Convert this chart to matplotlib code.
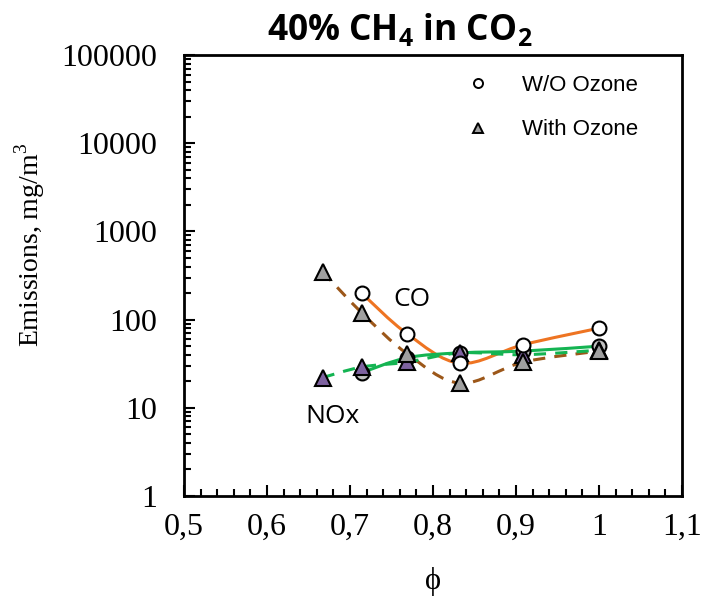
import matplotlib
matplotlib.use('Agg')
import matplotlib.pyplot as plt
from matplotlib.path import Path
from matplotlib.patches import PathPatch
from matplotlib.lines import Line2D
from matplotlib.ticker import MultipleLocator, FuncFormatter, LogLocator
import numpy as np

# equivalence ratio
phi = [0.667, 0.714, 0.769, 0.833, 0.909, 1.0]
phi_wo = [0.714, 0.769, 0.833, 0.909, 1.0]

# emissions, mg/m3
co_wo = [200, 69, 32, 52, 80]
co_w = [350, 120, 41, 19, 33, 44]
nox_wo = [25, 37, 42, 44, 50]
nox_w = [22, 29, 33, 42, 40, 45]

serif = 'Liberation Serif'
plt.rcParams['mathtext.fontset'] = 'custom'
plt.rcParams['mathtext.rm'] = serif
plt.rcParams['mathtext.bf'] = 'Open Sans:bold'


def smooth_path(x, y):
    # excel-like smoothed line: cubic bezier through the points (in x, log y)
    x = np.asarray(x, float)
    ly = np.log10(np.asarray(y, float))
    n = len(x)
    verts = [(x[0], ly[0])]
    codes = [Path.MOVETO]
    for i in range(n - 1):
        p0 = np.array([x[max(i - 1, 0)], ly[max(i - 1, 0)]])
        p1 = np.array([x[i], ly[i]])
        p2 = np.array([x[i + 1], ly[i + 1]])
        p3 = np.array([x[min(i + 2, n - 1)], ly[min(i + 2, n - 1)]])
        c1 = p1 + (p2 - p0) / 6
        c2 = p2 - (p3 - p1) / 6
        verts += [tuple(c1), tuple(c2), tuple(p2)]
        codes += [Path.CURVE4] * 3
    verts = [(vx, 10 ** vy) for vx, vy in verts]
    return Path(verts, codes)


fig = plt.figure(figsize=(7.17, 5.99), dpi=100)
ax = fig.add_axes([0.2566, 0.172, 0.6945, 0.736])

ax.set_yscale('log')
ax.set_xlim(0.5, 1.1)
ax.set_ylim(1, 100000)

# lines
ax.add_patch(PathPatch(smooth_path(phi_wo, co_wo), fill=False, color='#EE7422', lw=2.2, zorder=2))
ax.add_patch(PathPatch(smooth_path(phi, co_w), fill=False, color='#9C5719', lw=2.2,
                       ls=(0, (4, 3)), zorder=2))
ax.add_patch(PathPatch(smooth_path(phi_wo, nox_wo), fill=False, color='#14B452', lw=2.2, zorder=2))
ax.add_patch(PathPatch(smooth_path(phi, nox_w), fill=False, color='#14B452', lw=2.2,
                       ls=(0, (4, 3)), zorder=2))

# markers
ax.plot(phi_wo, nox_wo, 'o', ls='none', ms=10, mfc='#C0C0C0', mec='black', mew=1.5, zorder=3)
ax.plot(phi, nox_w, '^', ls='none', ms=11, mfc='#7E62A0', mec='black', mew=1.5, zorder=4)
ax.plot(phi, co_w, '^', ls='none', ms=11, mfc='#A0A0A0', mec='black', mew=1.5, zorder=5)
ax.plot(phi_wo, co_wo, 'o', ls='none', ms=10, mfc='white', mec='black', mew=1.5, zorder=6)

ax.text(0.752, 170, 'CO', fontsize=19, family='Open Sans', ha='left', va='center')
ax.text(0.646, 7.9, 'NOx', fontsize=19, family='Open Sans', ha='left', va='center')

# legend
handles = [Line2D([], [], marker='o', ls='none', ms=6.5, mfc='white', mec='black', mew=1.4),
           Line2D([], [], marker='^', ls='none', ms=7.5, mfc='#A0A0A0', mec='black', mew=1.4)]
ax.legend(handles, ['W/O Ozone', 'With Ozone'], loc='upper right', frameon=False,
          prop={'family': 'Liberation Sans', 'size': 16}, handletextpad=1.5,
          handlelength=1.0, labelspacing=1.05, bbox_to_anchor=(0.93, 0.975), borderaxespad=0)

# axes styling
for s in ax.spines.values():
    s.set_linewidth(2)
ax.xaxis.set_major_locator(MultipleLocator(0.1))
ax.xaxis.set_minor_locator(MultipleLocator(0.02))
ax.yaxis.set_major_locator(LogLocator(base=10, numticks=10))
ax.yaxis.set_minor_locator(LogLocator(base=10, subs=np.arange(2, 10), numticks=20))
ax.xaxis.set_major_formatter(FuncFormatter(lambda v, p: ('%g' % round(v, 2)).replace('.', ',')))
ax.yaxis.set_major_formatter(FuncFormatter(lambda v, p: '%d' % round(v)))
ax.tick_params(which='both', direction='in', top=False, right=False, width=1.5)
ax.tick_params(which='major', length=8, labelsize=23, pad=12)
ax.tick_params(axis='y', which='major', pad=19)
ax.tick_params(which='minor', length=5)
for lab in ax.get_xticklabels() + ax.get_yticklabels():
    lab.set_family(serif)

ax.set_xlabel('ϕ', family=serif, fontsize=22, labelpad=18)
ax.set_ylabel('Emissions, mg/m$^3$', family=serif, fontsize=20, va='center')
ax.yaxis.set_label_coords(-0.31, 0.569)
fig.text(400 / 717, 1 - 30 / 599, '40% CH$_\\mathbf{4}$ in CO$_\\mathbf{2}$', family='Open Sans',
         fontweight='bold', fontsize=25.5, ha='center', va='center')

fig.savefig('out.png', dpi=100)
